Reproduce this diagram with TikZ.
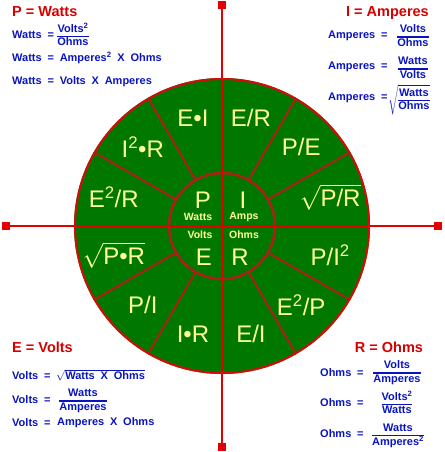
\documentclass[tikz,border=0pt]{standalone}
\usepackage{fontspec}
\setmainfont{Liberation Sans}
\newfontfamily\formfont[WordSpace=1.9]{Liberation Sans}

\definecolor{wheelgreen}{RGB}{0,120,0}
\definecolor{lemon}{RGB}{255,255,150}
\definecolor{axisred}{RGB}{228,0,0}
\definecolor{rimred}{RGB}{215,10,10}
\definecolor{spokered}{RGB}{175,30,25}
\definecolor{headred}{RGB}{215,0,0}
\definecolor{formblue}{RGB}{10,20,190}

% stacked fraction and root for the formulas
\newcommand{\fr}[2]{{\setlength{\arrayrulewidth}{1.2pt}\renewcommand{\arraystretch}{0.95}%
  \begin{tabular}{@{}c@{}}#1\\\hline #2\end{tabular}}}
\newcommand{\rt}[1]{\ensuremath{\sqrt{\mbox{#1}}}}

\tikzset{
  wedgelbl/.style={text=lemon, font=\fontsize{24}{26}\selectfont, inner sep=0pt},
  unitlbl/.style={text=lemon, font=\bfseries\fontsize{10.5}{12}\selectfont, inner sep=0pt},
  quantity/.style={text=headred, font=\bfseries\fontsize{14.5}{16}\selectfont, inner sep=0pt},
  formula/.style={text=formblue, font=\formfont\bfseries\fontsize{11}{13}\selectfont, inner sep=0pt},
  axisline/.style={draw=axisred, line width=2pt},
  endsq/.style={fill=axisred, minimum size=8pt, inner sep=0pt},
}

\begin{document}
\begin{tikzpicture}[x=1pt,y=-1pt]
  \useasboundingbox (0,0) rectangle (444,452);

  % the wheel
  \begin{scope}[shift={(222,226)}]
    \fill[wheelgreen] (0,0) circle (148);
    \foreach \a in {30,60,120,150,210,240,300,330}
      \draw[spokered, line width=2pt] (\a:53) -- (\a:148);
    \draw[spokered, line width=2.5pt] (0,0) circle (53);
  \end{scope}

  % axes with square ends
  \node[endsq] (sqL) at (6,226) {};
  \node[endsq] (sqR) at (438,226) {};
  \node[endsq] (sqT) at (222,5) {};
  \node[endsq] (sqB) at (222,447) {};
  \draw[axisline] (sqL) -- (sqR);
  \draw[axisline] (sqT) -- (sqB);

  \draw[rimred, line width=2pt] (222,226) circle (147);

  % outer ring, clockwise from twelve o'clock
  \begin{scope}[shift={(222,226)}]
    \foreach \txt [count=\k] in {{E/R},{P/E},{\rt{P/R}},{P/I\textsuperscript{2}},
        {E\textsuperscript{2}/P},{E/I},{I\textbullet R},{P/I},{\rt{P\textbullet R}},
        {E\textsuperscript{2}/R},{I\textsuperscript{2}\textbullet R},{E\textbullet I}}
      \node[wedgelbl] (w\k) at ({30*\k-105}:112) {\txt};
  \end{scope}

  % centre
  \node[wedgelbl] (cP) at (203,200) {P};
  \node[wedgelbl] (cI) at (243,200) {I};
  \node[wedgelbl] (cE) at (204,257) {E};
  \node[wedgelbl] (cR) at (240,257) {R};
  \node[unitlbl] (uW) at (198,217) {Watts};
  \node[unitlbl] (uA) at (244,217) {Amps};
  \node[unitlbl] (uV) at (200,235) {Volts};
  \node[unitlbl] (uO) at (244,235) {Ohms};

  % P = Watts
  \node[quantity, anchor=west] (pw) at (12,12) {P = Watts};
  \node[formula, anchor=west] (pw1) at (12,35) {Watts =};
  \node[formula] (pw1f) at (73,36) {\fr{Volts\textsuperscript{2}}{Ohms}};
  \node[formula, anchor=west] (pw2) at (12,58) {Watts = Amperes\textsuperscript{2} X Ohms};
  \node[formula, anchor=west] (pw3) at (12,82) {Watts = Volts X Amperes};

  % I = Amperes
  \node[quantity, anchor=east] (ia) at (429,13) {I = Amperes};
  \node[formula, anchor=west] (ia1) at (328,36) {Amperes =};
  \node[formula] (ia1f) at (413,37) {\fr{Volts}{Ohms}};
  \node[formula, anchor=west] (ia2) at (328,67) {Amperes =};
  \node[formula] (ia2f) at (413,69) {\fr{Watts}{Volts}};
  \node[formula, anchor=west] (ia3) at (328,98) {Amperes =};
  \node[formula] (ia3f) at (409,100) {\rt{\fr{Watts}{Ohms}}};

  % E = Volts
  \node[quantity, anchor=west] (ev) at (12,347) {E = Volts};
  \node[formula, anchor=west] (ev1) at (12,376) {Volts =};
  \node[formula, anchor=west] (ev1f) at (56,375) {\rt{Watts X Ohms}};
  \node[formula, anchor=west] (ev2) at (12,400) {Volts =};
  \node[formula] (ev2f) at (83,401) {\fr{Watts}{Amperes}};
  \node[formula, anchor=west] (ev3) at (12,423) {Volts =};
  \node[formula, anchor=west] (ev3f) at (57,423) {Amperes X Ohms};

  % R = Ohms
  \node[quantity] (ro) at (389,347) {R = Ohms};
  \node[formula, anchor=west] (ro1) at (320,373) {Ohms =};
  \node[formula] (ro1f) at (397,373) {\fr{Volts}{Amperes}};
  \node[formula, anchor=west] (ro2) at (320,403) {Ohms =};
  \node[formula] (ro2f) at (397,404) {\fr{Volts\textsuperscript{2}}{Watts}};
  \node[formula, anchor=west] (ro3) at (320,434) {Ohms =};
  \node[formula] (ro3f) at (398,436) {\fr{Watts}{Amperes\textsuperscript{2}}};
\end{tikzpicture}
\end{document}
